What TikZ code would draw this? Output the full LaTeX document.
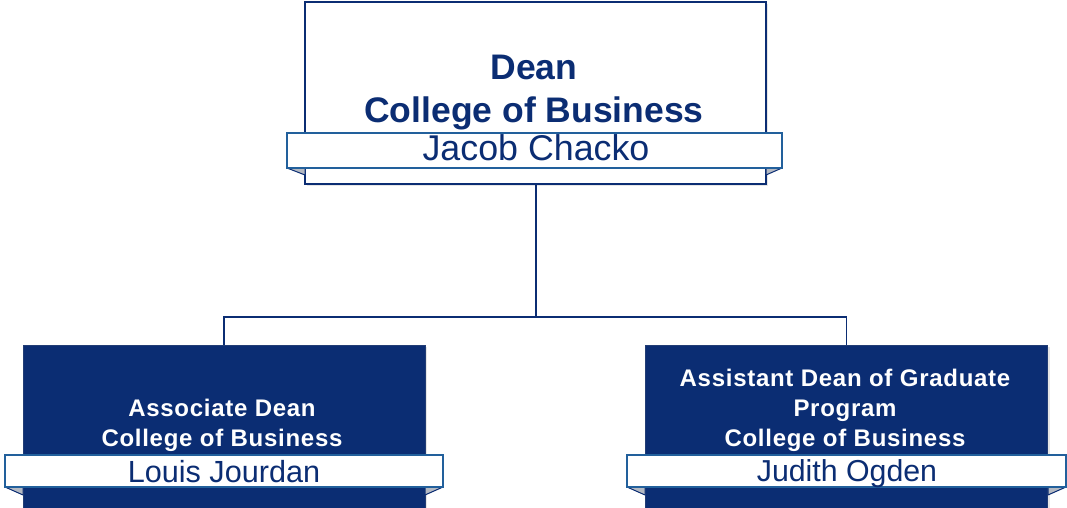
\documentclass[tikz,border=0pt]{standalone}
\usepackage{fontspec}
\setmainfont{Liberation Sans}
\newfontfamily\spacedfont[LetterSpace=3]{Liberation Sans}
\usetikzlibrary{positioning,shadows}
\definecolor{navy}{HTML}{0B2D73}
\definecolor{bannerline}{HTML}{22609C}
\definecolor{foldgray}{HTML}{B4B9C2}
\tikzset{
  deanbox/.style={draw=navy, line width=1.5pt, fill=white, minimum width=461pt, minimum height=182pt, inner sep=0pt,
    drop shadow={opacity=0.2, shadow xshift=2pt, shadow yshift=-2pt}},
  subbox/.style={draw=navy!80!gray, line width=0.8pt, fill=navy, minimum width=402pt, minimum height=163pt, inner sep=0pt,
    drop shadow={opacity=0.2, shadow xshift=2pt, shadow yshift=-2pt}},
  banner/.style={draw=bannerline, line width=1.2pt, fill=white, inner sep=0pt},
  bannertext/.style={text=navy, inner sep=0pt, anchor=base},
  fold/.style={fill=foldgray, draw=navy, line width=1pt, line join=round},
  link/.style={draw=navy, line width=1.6pt},
  toptitle/.style={text=navy, font=\bfseries\fontsize{35.5}{40}\selectfont, inner sep=0pt, anchor=base},
  subtitle/.style={text=white, font=\spacedfont\bfseries\fontsize{24}{30}\selectfont, inner sep=0pt, anchor=base},
}
\begin{document}
\begin{tikzpicture}[x=1pt,y=-1pt]
\useasboundingbox (0,0) rectangle (1067,508);
% Dean box
\node[deanbox] (dean) at (535.5,93) {};
\node[toptitle] (deant1) at (534,80) {Dean};
\node[toptitle] (deant2) at (534,122) {College of Business};
\filldraw[fold] (287,168) -- (305,168) -- (305,175) -- cycle;
\filldraw[fold] (782,168) -- (766,168) -- (766,175) -- cycle;
\node[banner, minimum width=495pt, minimum height=35pt] (deanb) at (534.5,150.5) {};
\node[bannertext, font=\fontsize{35.8}{40}\selectfont] (deann) at (536,160) {Jacob Chacko};
% Associate box
\node[subbox] (assoc) at (224,426.5) {};
\node[subtitle] (assoct1) at (222,416) {Associate Dean};
\node[subtitle] (assoct2) at (222,446) {College of Business};
\filldraw[fold] (5,487) -- (23,487) -- (23,495) -- cycle;
\filldraw[fold] (443,487) -- (425,487) -- (425,495) -- cycle;
\node[banner, minimum width=438pt, minimum height=32pt] (assocb) at (224,471) {};
\node[bannertext, font=\fontsize{30.6}{36}\selectfont] (assocn) at (224,482) {Louis Jourdan};
% Assistant box
\node[subbox] (asst) at (846.5,426.5) {};
\node[subtitle] (asstt1) at (845,386) {Assistant Dean of Graduate};
\node[subtitle] (asstt2) at (845,416) {Program};
\node[subtitle] (asstt3) at (845,446) {College of Business};
\filldraw[fold] (627,487) -- (645,487) -- (645,495) -- cycle;
\filldraw[fold] (1066,487) -- (1048,487) -- (1048,495) -- cycle;
\node[banner, minimum width=439pt, minimum height=32pt] (asstb) at (846.5,471) {};
\node[bannertext, font=\fontsize{30.3}{36}\selectfont] (asstn) at (847,481) {Judith Ogden};
% connectors
\coordinate (bus) at (536,317);
\draw[link] (dean.south -| bus) -- (bus);
\draw[link] (bus) -| (assoc.north);
\draw[link] (bus) -| (asst.north);
\end{tikzpicture}
\end{document}
